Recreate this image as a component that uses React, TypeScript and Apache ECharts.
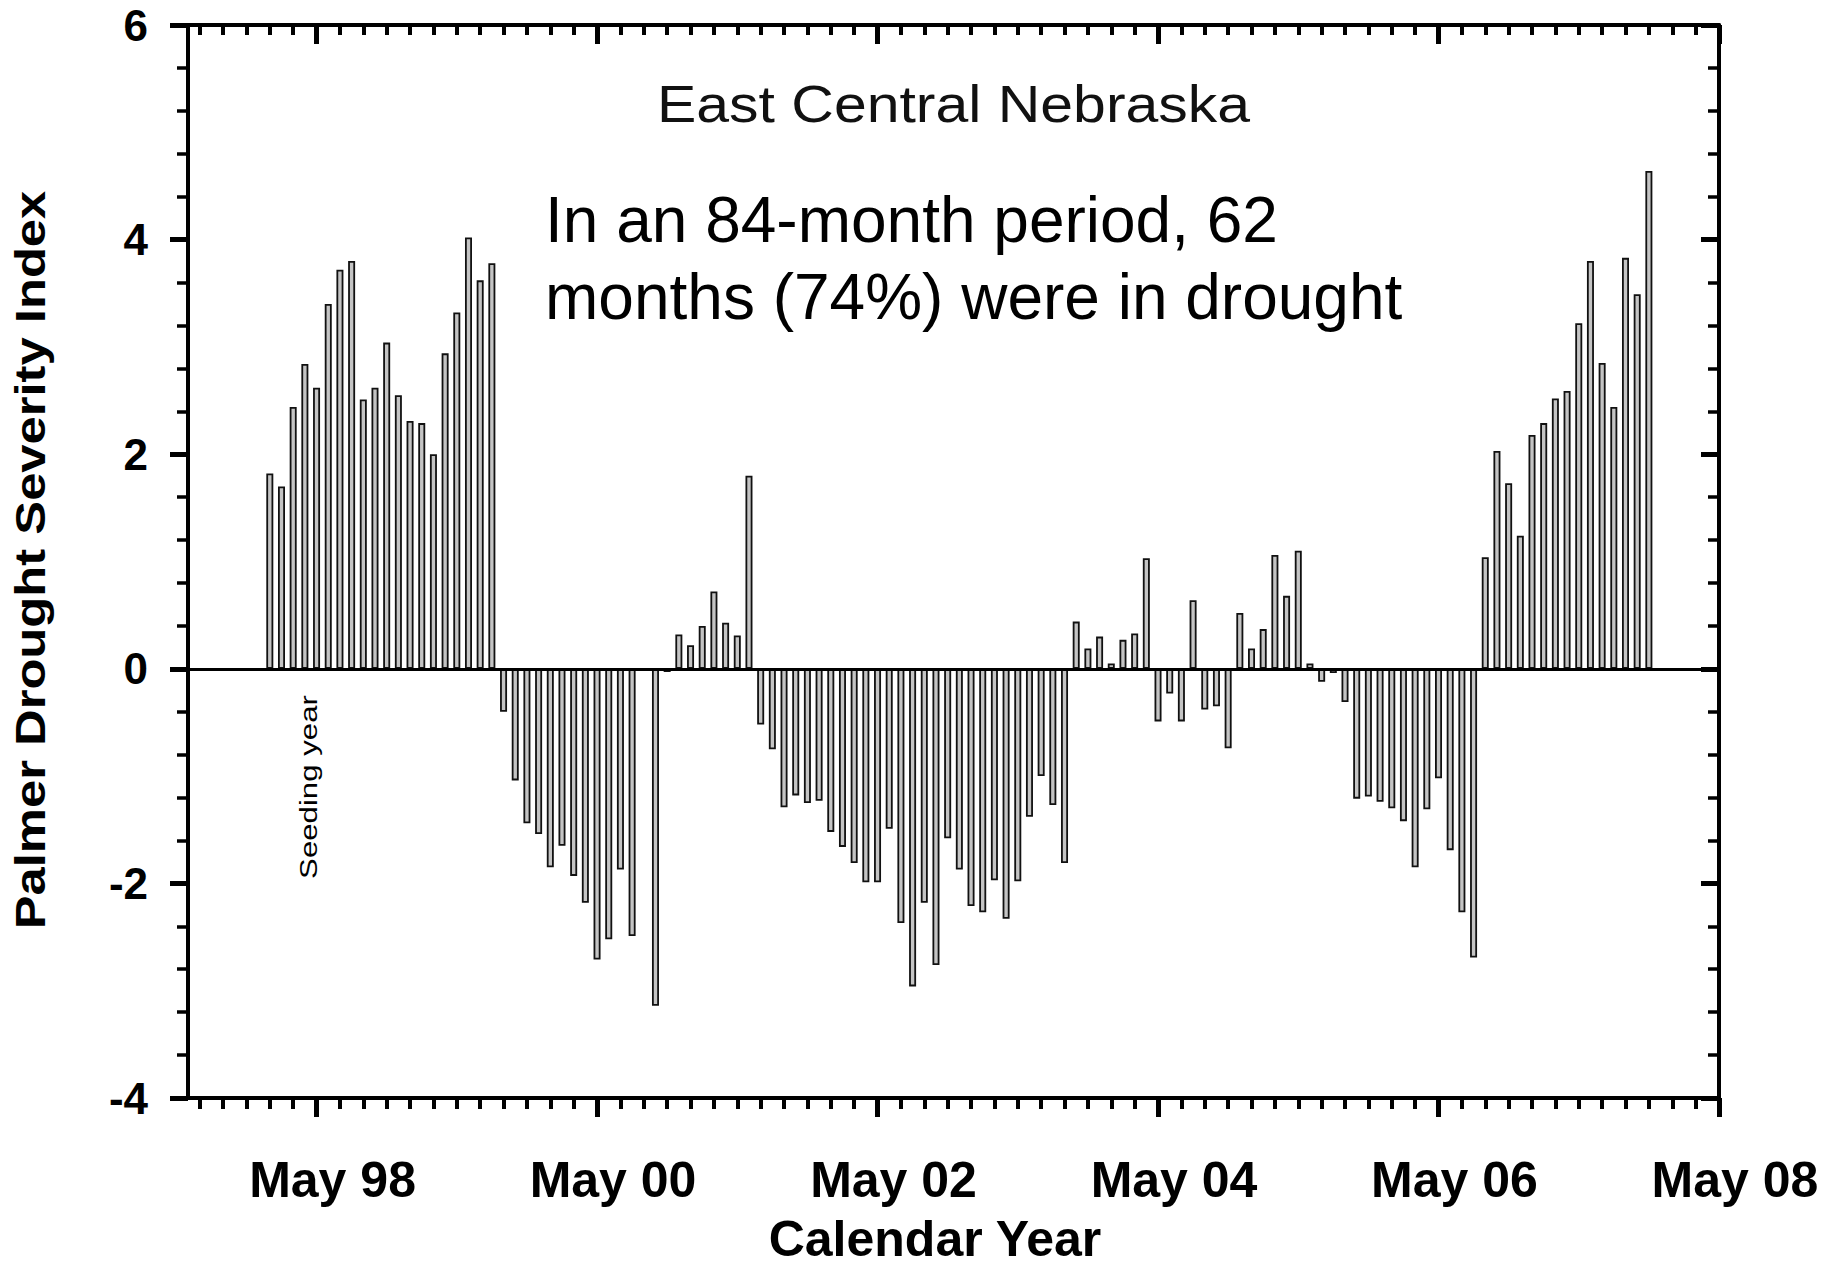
import React, { useEffect, useRef } from "react";
import * as echarts from "echarts";

// ---------- data ----------
const monthNames = ["Jan", "Feb", "Mar", "Apr", "May", "Jun", "Jul", "Aug", "Sep", "Oct", "Nov", "Dec"];
const axisFirstYear = 1997;
const axisFirstMonth = 5; // Jun 1997
const axisMonthCount = 132; // Jun 1997 .. May 2008

// Monthly Palmer Drought Severity Index, Jan of each year onward
const pdsi1998 = [1.82, 1.7, 2.44, 2.84, 2.62, 3.4, 3.72, 3.8, 2.51, 2.62, 3.04, 2.55];
const pdsi1999 = [2.31, 2.29, 2.0, 2.94, 3.32, 4.02, 3.62, 3.78, -0.4, -1.04, -1.44, -1.54];
const pdsi2000 = [-1.85, -1.65, -1.93, -2.18, -2.71, -2.52, -1.87, -2.49, null, -3.14, -0.03, 0.32];
const pdsi2001 = [0.22, 0.4, 0.72, 0.43, 0.31, 1.8, -0.52, -0.75, -1.29, -1.18, -1.25, -1.23];
const pdsi2002 = [-1.52, -1.66, -1.81, -1.99, -1.99, -1.49, -2.37, -2.96, -2.18, -2.76, -1.58, -1.87];
const pdsi2003 = [-2.21, -2.27, -1.97, -2.33, -1.98, -1.38, -1.0, -1.27, -1.81, 0.44, 0.19, 0.3];
const pdsi2004 = [0.05, 0.27, 0.33, 1.03, -0.49, -0.23, -0.49, 0.64, -0.38, -0.35, -0.74, 0.52];
const pdsi2005 = [0.19, 0.37, 1.06, 0.68, 1.1, 0.05, -0.12, -0.04, -0.31, -1.21, -1.19, -1.24];
const pdsi2006 = [-1.3, -1.42, -1.85, -1.31, -1.02, -1.69, -2.27, -2.69, 1.04, 2.03, 1.73, 1.24];
const pdsi2007 = [2.18, 2.29, 2.52, 2.59, 3.22, 3.8, 2.85, 2.44, 3.83, 3.49, 4.64];

const yearSeries: [number, (number | null)[]][] = [
  [1998, pdsi1998],
  [1999, pdsi1999],
  [2000, pdsi2000],
  [2001, pdsi2001],
  [2002, pdsi2002],
  [2003, pdsi2003],
  [2004, pdsi2004],
  [2005, pdsi2005],
  [2006, pdsi2006],
  [2007, pdsi2007],
];

const xTickLabels = ["May 98", "May 00", "May 02", "May 04", "May 06", "May 08"];
const yMin = -4;
const yMax = 6;
const yStep = 2;

const titleText = "East Central Nebraska";
const noteLine1 = "In an 84-month period, 62";
const noteLine2 = "months (74%) were in drought";
const seedingText = "Seeding year";
const yTitle = "Palmer Drought Severity Index";
const xTitle = "Calendar Year";

// ---------- helpers ----------
const monthLabel = (year: number, month: number) =>
  `${monthNames[month]} ${String(year % 100).padStart(2, "0")}`;

const categories: string[] = [];
for (let i = 0; i < axisMonthCount; i++) {
  const t = axisFirstMonth + i;
  categories.push(monthLabel(axisFirstYear + Math.floor(t / 12), t % 12));
}

const valueByMonth: Record<string, number | null> = {};
yearSeries.forEach(([year, vals]) => {
  vals.forEach((v, m) => {
    valueByMonth[monthLabel(year, m)] = v;
  });
});
const barData = categories.map((c) => (c in valueByMonth ? valueByMonth[c] : null));

const isMajor = (_i: number, v: string) => xTickLabels.includes(v);
const isMinor = (_i: number, v: string) => monthNames.indexOf(v.split(" ")[0]) % 2 === 0;

const FONT = '"Liberation Sans", Arial, Helvetica, sans-serif';

export default function App() {
  const ref = useRef<HTMLDivElement>(null);

  useEffect(() => {
    if (!ref.current) return;
    const chart = echarts.init(ref.current, undefined, { renderer: "svg" });

    const baseX = {
      type: "category" as const,
      data: categories,
      boundaryGap: false,
      splitLine: { show: false },
    };

    const option: any = {
      animation: false,
      backgroundColor: "#ffffff",
      grid: { left: 188, right: 126, top: 25, bottom: 171, containLabel: false, outerBoundsMode: "none" },
      xAxis: [
        {
          ...baseX,
          position: "bottom",
          axisLine: { show: true, onZero: false, lineStyle: { color: "#000", width: 4 } },
          axisTick: { show: true, inside: false, length: 11, interval: isMinor, lineStyle: { color: "#000", width: 4 } },
          axisLabel: { show: false },
        },
        {
          ...baseX,
          position: "bottom",
          axisLine: { show: false, onZero: false },
          axisTick: { show: true, inside: false, length: 19, interval: isMajor, lineStyle: { color: "#000", width: 5 } },
          axisLabel: {
            show: true,
            interval: isMajor,
            margin: 57,
            padding: [0, 0, 0, 32],
            color: "#000",
            fontFamily: FONT,
            fontWeight: "bold",
            fontSize: 50,
          },
        },
        {
          ...baseX,
          position: "top",
          axisLine: { show: true, onZero: false, lineStyle: { color: "#000", width: 4 } },
          axisTick: { show: true, inside: true, length: 10, interval: isMinor, lineStyle: { color: "#000", width: 4 } },
          axisLabel: { show: false },
        },
        {
          ...baseX,
          position: "top",
          axisLine: { show: false, onZero: false },
          axisTick: { show: true, inside: true, length: 19, interval: isMajor, lineStyle: { color: "#000", width: 5 } },
          axisLabel: { show: false },
        },
      ],
      yAxis: [
        {
          type: "value",
          position: "left",
          min: yMin,
          max: yMax,
          interval: yStep,
          splitLine: { show: false },
          axisLine: { show: true, onZero: false, lineStyle: { color: "#000", width: 4 } },
          axisTick: { show: true, inside: false, length: 18, lineStyle: { color: "#000", width: 5 } },
          minorTick: { show: true, splitNumber: 5, length: 11, lineStyle: { color: "#000", width: 3.5 } },
          axisLabel: {
            show: true,
            margin: 40,
            color: "#000",
            fontFamily: FONT,
            fontWeight: "bold",
            fontSize: 44,
          },
        },
        {
          type: "value",
          position: "right",
          min: yMin,
          max: yMax,
          interval: yStep,
          splitLine: { show: false },
          axisLine: { show: true, onZero: false, lineStyle: { color: "#000", width: 4 } },
          axisTick: { show: true, inside: true, length: 18, lineStyle: { color: "#000", width: 5 } },
          minorTick: { show: true, splitNumber: 5, length: 11, lineStyle: { color: "#000", width: 3.5 } },
          axisLabel: { show: false },
        },
      ],
      series: [
        {
          type: "bar",
          xAxisIndex: 0,
          yAxisIndex: 0,
          data: barData,
          barWidth: 7,
          itemStyle: { color: "#c4c4c4", borderColor: "#111", borderWidth: 1.8 },
          markLine: {
            silent: true,
            symbol: ["none", "none"],
            label: { show: false },
            lineStyle: { color: "#000", width: 3, type: "solid" },
            data: [{ yAxis: 0 }],
          },
        },
      ],
      graphic: [
        {
          type: "text",
          x: 657,
          y: 104,
          scaleX: 1.134,
          style: { text: titleText, fontFamily: FONT, fontSize: 52, fill: "#111", align: "left", verticalAlign: "middle" },
        },
        {
          type: "text",
          x: 545,
          y: 220,
          style: { text: noteLine1, fontFamily: FONT, fontSize: 64, fill: "#000", align: "left", verticalAlign: "middle" },
        },
        {
          type: "text",
          x: 545,
          y: 297,
          style: { text: noteLine2, fontFamily: FONT, fontSize: 64, fill: "#000", align: "left", verticalAlign: "middle" },
        },
        {
          type: "text",
          x: 309,
          y: 787,
          rotation: Math.PI / 2,
          scaleX: 1.3,
          style: { text: seedingText, fontFamily: FONT, fontSize: 24, fill: "#000", align: "center", verticalAlign: "middle" },
        },
        {
          type: "text",
          x: 31,
          y: 560,
          rotation: Math.PI / 2,
          scaleX: 1.208,
          style: { text: yTitle, fontFamily: FONT, fontSize: 42, fontWeight: "bold", fill: "#000", align: "center", verticalAlign: "middle" },
        },
        {
          type: "text",
          x: 935,
          y: 1239,
          style: { text: xTitle, fontFamily: FONT, fontSize: 50, fontWeight: "bold", fill: "#000", align: "center", verticalAlign: "middle" },
        },
      ],
    };

    chart.setOption(option);
    return () => chart.dispose();
  }, []);

  return (
    <div
      ref={ref}
      style={{ position: "fixed", left: 0, top: 0, width: 1845, height: 1269, background: "#fff" }}
    />
  );
}
